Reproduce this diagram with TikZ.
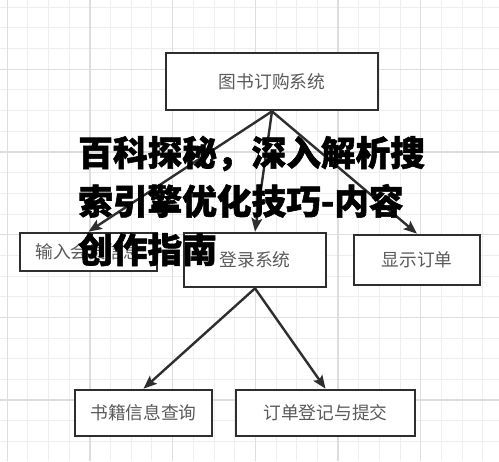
\documentclass[tikz,border=0pt]{standalone}
\usepackage{fontspec}
\newfontfamily\cjk{Noto Sans CJK SC}
\newfontfamily\cjktitle[BoldFeatures={FakeBold=1.6}]{Noto Sans CJK SC}
\usetikzlibrary{arrows.meta}
\definecolor{gridminor}{HTML}{EEEEEE}
\definecolor{gridmajor}{HTML}{DDDDDD}
\definecolor{boxline}{HTML}{2E2E2E}
\definecolor{boxtext}{HTML}{5A5A5A}
\tikzset{
  module/.style={draw=boxline,line width=2pt,fill=white,inner sep=0pt,
    font=\cjk\fontsize{13.3}{16}\selectfont,text=boxtext},
  link/.style={-{Stealth[length=10pt,width=8pt,inset=2pt]},draw=boxline,line width=1.8pt},
}
\begin{document}
\begin{tikzpicture}
    [x=0.75pt,y=-0.75pt]
    \useasboundingbox [fill=white] (0,0) rectangle (499,461);
    % background grid
    \foreach \k in {0,...,24} {
      \pgfmathsetmacro{\p}{7.3+20.67*\k}
      \draw [gridminor,line width=0.75pt] (\p,0) -- (\p,461);
      \draw [gridminor,line width=0.75pt] (0,\p) -- (499,\p);
    }
    \foreach \k in {0,4,...,24} {
      \pgfmathsetmacro{\p}{7.3+20.67*\k}
      \draw [gridmajor,line width=0.9pt] (\p,0) -- (\p,461);
    }
    \foreach \k in {3,7,...,23} {
      \pgfmathsetmacro{\p}{7.3+20.67*\k}
      \draw [gridmajor,line width=0.9pt] (0,\p) -- (499,\p);
    }
    % modules
    \node (sys) at (272,81.5) [module,minimum width=159pt,minimum height=42.75pt] {图书订购系统};
    \node (member) at (88.5,252) [module,minimum width=102.75pt,minimum height=28.5pt] {输入会员信息};
    \node (login) at (255,260) [module,minimum width=106.5pt,minimum height=40.5pt] {登录系统};
    \node (order) at (417,260) [module,minimum width=94.5pt,minimum height=37.5pt] {显示订单};
    \node (query) at (143.5,413) [module,minimum width=102.75pt,minimum height=34.5pt] {书籍信息查询};
    \node (submit) at (325.5,413) [module,minimum width=134.25pt,minimum height=34.5pt] {订单登记与提交};
    \draw [link] (sys.south) to (member.north);
    \draw [link] (sys.south) to (login.north);
    \draw [link] (sys.south) to (order.north);
    \draw [link] (login.south) to (query.north);
    \draw [link] (login.south) to (submit.north);
    % overlaid title
    \node (title) at (78,201) [anchor=west,align=left,inner sep=0pt,
      font=\cjktitle\bfseries\fontsize{26}{36.4}\selectfont] {百科探秘，深入解析搜\\索引擎优化技巧-内容\\创作指南};
\end{tikzpicture}
\end{document}
